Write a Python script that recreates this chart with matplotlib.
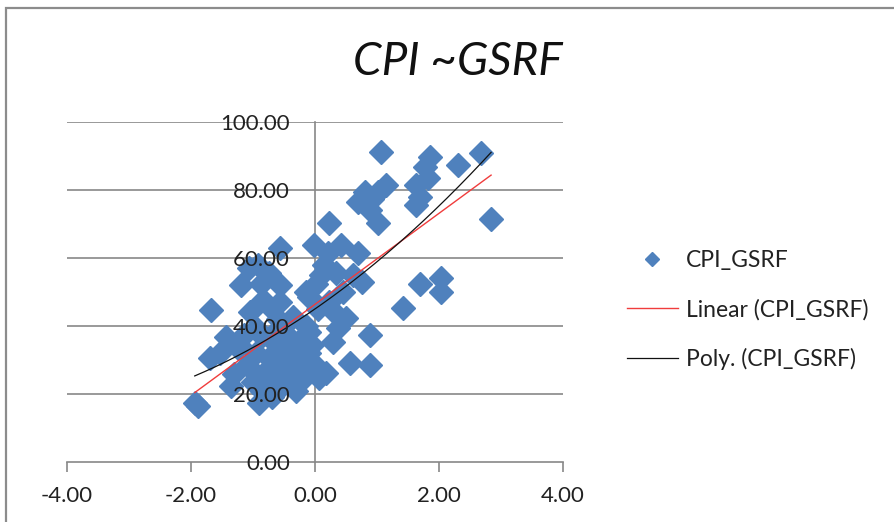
import numpy as np
import matplotlib
matplotlib.use("Agg")
import matplotlib.pyplot as plt
from matplotlib.patches import Rectangle

# ---- data ----
x_vals = [
    1.07, 1.85, 2.30, 2.68, 1.77, 1.82, 1.63, 1.15, 1.01, 0.80, 0.69, 0.88, 1.01, 1.63, 2.84, 0.22, 0.92, 1.70,
    -0.01, 0.42, 0.21, 0.69, 0.10, 0.34, 0.61, 0.75, -0.14, 0.23, 1.69, 2.04, 2.04, 1.42, 0.50, 0.37, 0.88,
    0.29, -0.09, -0.20, -0.04, 0.56, 0.88, 0.18, 0.07, -0.14, 0.15, 0.45, 0.05, 0.30,
    -0.57, -1.06, -0.92, -1.19, -0.87, -0.57, -0.84, -0.57, -1.67, -0.09, 0.02, -1.43, -1.70, -1.54, -1.94,
    -1.88, -0.90, -0.36, -0.20, -0.75, -0.70,
    -1.30, -1.10, -1.00, -0.95, -0.85, -0.85, -0.80, -0.75, -0.70, -0.65, -0.60, -0.60, -0.55, -0.50, -0.50,
    -0.45, -0.40, -0.40, -0.35, -0.30, -0.30, -0.25, -0.20, -0.15, -0.10, -0.05, -0.95, -1.15, -1.25, -0.70,
    -0.60, -1.05, -1.35, -1.22,
]
y_vals = [
    91.3, 89.8, 87.4, 90.8, 86.9, 83.4, 81.5, 81.5, 79.5, 79.5, 76.6, 74.1, 70.2, 75.6, 71.4, 70.4, 77.5, 78.0,
    63.8, 63.8, 61.4, 61.4, 55.0, 55.5, 55.0, 53.0, 50.1, 47.1, 52.5, 54.0, 50.0, 45.2, 42.3, 39.3, 37.4,
    35.4, 38.3, 31.0, 29.0, 29.0, 28.5, 26.1, 24.6, 27.0, 58.0, 50.0, 45.0, 44.0,
    62.8, 57.0, 57.9, 52.1, 52.5, 52.1, 47.6, 47.1, 44.7, 48.6, 52.5, 36.9, 30.5, 32.0, 17.3,
    16.5, 17.3, 42.7, 36.8, 55.5, 45.0,
    26.0, 28.5, 23.5, 32.0, 37.0, 21.0, 26.5, 30.5, 24.0, 35.0, 39.0, 29.0, 22.0, 26.5, 33.0,
    37.0, 23.5, 30.5, 35.5, 27.5, 21.0, 33.0, 24.5, 40.0, 32.0, 34.5, 39.5, 37.5, 33.5, 19.0,
    42.0, 44.0, 22.5, 34.5,
]
series_name = "CPI_GSRF"
title_text = "CPI ~GSRF"
x_ticks = [-4, -2, 0, 2, 4]
y_ticks = [0, 20, 40, 60, 80, 100]

x = np.array(x_vals)
y = np.array(y_vals)

FONT = "Lato"
TXT = "#222222"
GRID = "#878787"

fig = plt.figure(figsize=(8.94, 5.22), dpi=100)
fig.patch.set_facecolor("white")

# outer chart border (cut off on right and bottom like the reference)
fig.patches.append(Rectangle((6 / 894, -0.05), 1.1, (1 - 8 / 522) + 0.05,
                             transform=fig.transFigure, fill=False,
                             edgecolor="#8c8c8c", linewidth=1.6, zorder=0))

ax = fig.add_axes([67 / 894, 1 - 462 / 522, (563 - 67) / 894, (462 - 122) / 522])
ax.set_xlim(-4, 4)
ax.set_ylim(0, 100)

# horizontal gridlines below the markers
for v in y_ticks[1:]:
    ax.axhline(v, color=GRID, linewidth=1.2, zorder=1)

ax.plot(x, y, linestyle="none", marker="D", markersize=12.5,
        color="#4F81BD", markeredgecolor="#4F81BD", zorder=3, label=series_name)

# trend lines computed from the data
xs = np.linspace(x.min(), x.max(), 200)
lin = np.polyfit(x, y, 1)
ax.plot(xs, np.polyval(lin, xs), color="#F03C3C", linewidth=1.0, zorder=4,
        label="Linear (%s)" % series_name)
poly = np.polyfit(x, y, 2)
ax.plot(xs, np.polyval(poly, xs), color="#111111", linewidth=0.9, zorder=4,
        label="Poly. (%s)" % series_name)

# axes styling (Excel-like crossing axes)
for s in ("top", "right"):
    ax.spines[s].set_visible(False)
ax.spines["left"].set_position(("data", 0))
ax.spines["bottom"].set_position(("data", 0))
for s in ("left", "bottom"):
    ax.spines[s].set_color(GRID)
    ax.spines[s].set_linewidth(1.2)

ax.set_xticks(x_ticks)
ax.set_yticks(y_ticks)
ax.set_xticklabels(["%.2f" % v for v in x_ticks])
ax.set_yticklabels(["%.2f" % v for v in y_ticks])
ax.tick_params(axis="x", direction="out", length=7, width=1.2, color=GRID,
               pad=10, labelsize=16, labelcolor=TXT)
ax.tick_params(axis="y", length=0, pad=18, labelsize=16, labelcolor=TXT)
for lab in ax.get_xticklabels() + ax.get_yticklabels():
    lab.set_fontfamily(FONT)
ax.xaxis.set_zorder(6)
ax.yaxis.set_zorder(6)

fig.text(0.512, 1 - 62 / 522, title_text, ha="center", va="center",
         fontsize=33, style="italic", family=FONT, color="#111111")

leg = fig.legend(loc="center left", bbox_to_anchor=(606 / 894, 1 - 310 / 522),
                 frameon=False, prop={"family": FONT, "size": 16.5},
                 handlelength=2.25, handletextpad=0.33, labelspacing=1.2,
                 markerscale=0.55)
for t in leg.get_texts():
    t.set_color(TXT)

fig.savefig("out.png", dpi=100, facecolor="white")
